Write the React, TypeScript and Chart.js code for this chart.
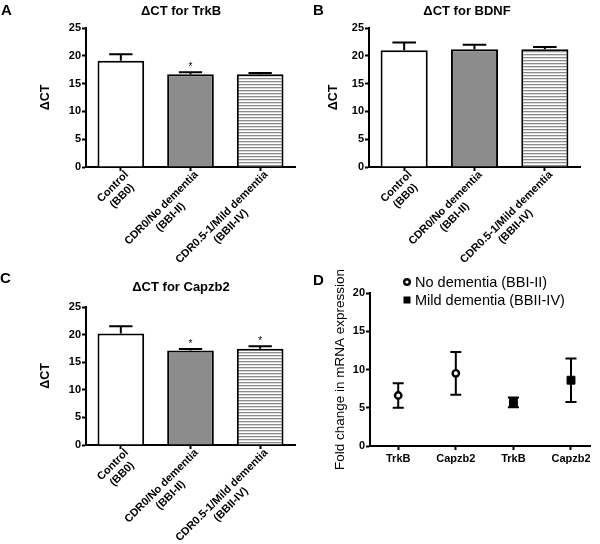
import React, { useEffect, useRef } from 'react';
import { Chart, registerables } from 'chart.js';

Chart.register(...registerables);

const FONT = "'Liberation Sans', Arial, Helvetica, sans-serif";

// ---- data ----
const groupLabels = [
  ['Control', '(BB0)'],
  ['CDR0/No dementia', '(BBI-II)'],
  ['CDR0.5-1/Mild dementia', '(BBII-IV)'],
];
const yTitleDelta = 'ΔCT';

const trkbMeans = [19.1, 16.7, 16.7];
const trkbErrors = [1.2, 0.35, 0.2];
const trkbStars = [false, true, false];

const bdnfMeans = [21.0, 21.2, 21.2];
const bdnfErrors = [1.4, 0.8, 0.4];
const bdnfStars = [false, false, false];

const capzb2Means = [20.2, 17.1, 17.45];
const capzb2Errors = [1.3, 0.3, 0.45];
const capzb2Stars = [false, true, true];

const foldGeneLabels = ['TrkB', 'Capzb2', 'TrkB', 'Capzb2'];
const noDementiaFold = [6.6, 9.5];
const noDementiaErr = [1.6, 2.8];
const mildDementiaFold = [5.7, 8.6];
const mildDementiaErr = [0.65, 2.85];
const foldSeriesNames = ['No dementia (BBI-II)', 'Mild dementia (BBII-IV)'];
const foldYTitle = 'Fold change in mRNA expression';

function makeHatch(): CanvasPattern | string {
  const c = document.createElement('canvas');
  c.width = 4;
  c.height = 3;
  const g = c.getContext('2d');
  if (!g) return '#ccc';
  g.fillStyle = '#ffffff';
  g.fillRect(0, 0, 4, 3);
  g.fillStyle = '#8a8a8a';
  g.fillRect(0, 0, 4, 1);
  g.fillStyle = '#dcdcdc';
  g.fillRect(0, 1, 4, 1);
  const p = g.createPattern(c, 'repeat');
  return p || '#ccc';
}

interface BarCfg {
  letter: string;
  letterX: number;
  letterY: number;
  title: string;
  titleX: number;
  titleY: number;
  means: number[];
  errors: number[];
  stars: boolean[];
  padLeft: number;
  yWidth: number;
  padTop: number;
  padRight: number;
  padBottom: number;
}

function makeBarChart(canvas: HTMLCanvasElement, cfg: BarCfg) {
  const hatch = makeHatch();
  const extras = {
    id: 'barExtras',
    afterDatasetsDraw(chart: any) {
      const ctx = chart.ctx as CanvasRenderingContext2D;
      const meta = chart.getDatasetMeta(0);
      const ys = chart.scales.y;
      const xs = chart.scales.x;
      ctx.save();
      ctx.strokeStyle = '#000';
      ctx.fillStyle = '#000';
      ctx.lineWidth = 2;
      meta.data.forEach((bar: any, i: number) => {
        const m = cfg.means[i];
        const e = cfg.errors[i];
        const yTop = ys.getPixelForValue(m + e);
        const yBase = ys.getPixelForValue(m);
        const half = bar.width / 4;
        ctx.beginPath();
        ctx.moveTo(bar.x, yBase);
        ctx.lineTo(bar.x, yTop);
        ctx.moveTo(bar.x - half, yTop);
        ctx.lineTo(bar.x + half, yTop);
        ctx.stroke();
        if (cfg.stars[i]) {
          ctx.font = `10px ${FONT}`;
          ctx.textAlign = 'center';
          ctx.textBaseline = 'alphabetic';
          ctx.fillText('*', bar.x, yTop - 2);
        }
      });
      // rotated two-line category labels
      ctx.font = `bold 11px ${FONT}`;
      ctx.textBaseline = 'middle';
      ctx.textAlign = 'center';
      groupLabels.forEach((lines, i) => {
        const px = xs.getPixelForTick(i);
        const w = Math.max(...lines.map((l) => ctx.measureText(l).width));
        ctx.save();
        ctx.translate(px + 6, xs.top + 6);
        ctx.rotate(-Math.PI / 4);
        lines.forEach((l, k) => ctx.fillText(l, -w / 2, k * 13));
        ctx.restore();
      });
      // panel letter and title
      ctx.textAlign = 'left';
      ctx.font = `bold 15px ${FONT}`;
      ctx.fillText(cfg.letter, cfg.letterX, cfg.letterY);
      ctx.textAlign = 'center';
      ctx.font = `bold 13px ${FONT}`;
      ctx.fillText(cfg.title, cfg.titleX, cfg.titleY);
      ctx.restore();
    },
  };

  return new Chart(canvas, {
    type: 'bar',
    data: {
      labels: groupLabels.map((l) => l.join(' ')),
      datasets: [
        {
          data: cfg.means,
          backgroundColor: ['#ffffff', '#8c8c8c', hatch as any],
          borderColor: '#000',
          borderWidth: 2,
          barPercentage: 0.67,
          categoryPercentage: 1,
        },
      ],
    },
    options: {
      responsive: false,
      animation: false,
      devicePixelRatio: 1,
      layout: {
        padding: { left: cfg.padLeft, top: cfg.padTop, right: cfg.padRight, bottom: cfg.padBottom },
      },
      plugins: { legend: { display: false }, tooltip: { enabled: false } },
      scales: {
        x: {
          type: 'category',
          offset: true,
          ticks: { display: false },
          grid: {
            display: true,
            offset: false,
            drawOnChartArea: false,
            drawTicks: true,
            tickLength: 4,
            tickWidth: 2,
            tickColor: '#000',
          },
          border: { display: true, color: '#000', width: 2 },
          afterFit: (s: any) => {
            s.height = 20;
          },
        },
        y: {
          min: 0,
          max: 25,
          ticks: {
            stepSize: 5,
            color: '#000',
            padding: 1,
            font: { size: 11, weight: 'bold', family: FONT },
          },
          grid: {
            display: true,
            drawOnChartArea: false,
            drawTicks: true,
            tickLength: 4,
            tickWidth: 2,
            tickColor: '#000',
          },
          border: { display: true, color: '#000', width: 2 },
          title: {
            display: true,
            text: yTitleDelta,
            color: '#000',
            padding: 0,
            font: { size: 12.5, weight: 'bold', family: FONT },
          },
          afterFit: (s: any) => {
            s.width = cfg.yWidth;
          },
        },
      },
    } as any,
    plugins: [extras],
  });
}

function makeFoldChart(canvas: HTMLCanvasElement) {
  const errs = [noDementiaErr, mildDementiaErr];
  const extras = {
    id: 'foldExtras',
    beforeDatasetsDraw(chart: any) {
      const ctx = chart.ctx as CanvasRenderingContext2D;
      const ys = chart.scales.y;
      ctx.save();
      ctx.strokeStyle = '#000';
      ctx.lineWidth = 2;
      chart.data.datasets.forEach((ds: any, d: number) => {
        const meta = chart.getDatasetMeta(d);
        meta.data.forEach((pt: any, j: number) => {
          const v = ds.data[j].y;
          const e = errs[d][j];
          const yT = ys.getPixelForValue(v + e);
          const yB = ys.getPixelForValue(v - e);
          ctx.beginPath();
          ctx.moveTo(pt.x, yT);
          ctx.lineTo(pt.x, yB);
          ctx.moveTo(pt.x - 5.5, yT);
          ctx.lineTo(pt.x + 5.5, yT);
          ctx.moveTo(pt.x - 5.5, yB);
          ctx.lineTo(pt.x + 5.5, yB);
          ctx.stroke();
        });
      });
      ctx.restore();
    },
    afterDatasetsDraw(chart: any) {
      const ctx = chart.ctx as CanvasRenderingContext2D;
      ctx.save();
      ctx.fillStyle = '#000';
      ctx.strokeStyle = '#000';
      ctx.textBaseline = 'middle';
      ctx.textAlign = 'left';
      ctx.font = `bold 15px ${FONT}`;
      ctx.fillText('D', 13, 19);
      // legend
      ctx.font = `14.5px ${FONT}`;
      const lx = 107;
      const ly = [20, 38];
      ctx.lineWidth = 2.4;
      ctx.beginPath();
      ctx.arc(lx, ly[0], 2.8, 0, Math.PI * 2);
      ctx.stroke();
      ctx.fillRect(lx - 3.5, ly[1] - 3.5, 7, 7);
      ctx.fillText(chart.data.datasets[0].label, lx + 8, ly[0] + 1);
      ctx.fillText(chart.data.datasets[1].label, lx + 8, ly[1] + 1);
      ctx.restore();
    },
  };

  return new Chart(canvas, {
    type: 'scatter',
    data: {
      datasets: [
        {
          label: foldSeriesNames[0],
          data: noDementiaFold.map((v, i) => ({ x: i + 1, y: v })),
          pointStyle: 'circle',
          pointRadius: 3.2,
          pointBorderWidth: 2.4,
          pointBackgroundColor: '#ffffff',
          pointBorderColor: '#000',
          showLine: false,
        },
        {
          label: foldSeriesNames[1],
          data: mildDementiaFold.map((v, i) => ({ x: i + 1 + noDementiaFold.length, y: v })),
          pointStyle: 'rect',
          pointRadius: 5.6,
          pointBorderWidth: 1,
          pointBackgroundColor: '#000',
          pointBorderColor: '#000',
          showLine: false,
        },
      ],
    },
    options: {
      responsive: false,
      animation: false,
      devicePixelRatio: 1,
      layout: { padding: { left: 32, top: 31, right: 10, bottom: 68 } },
      plugins: { legend: { display: false }, tooltip: { enabled: false } },
      scales: {
        x: {
          type: 'linear',
          min: 0.51,
          max: 4.33,
          afterBuildTicks: (s: any) => {
            s.ticks = foldGeneLabels.map((_, i) => ({ value: i + 1 }));
          },
          ticks: {
            color: '#000',
            padding: 2,
            maxRotation: 0,
            autoSkip: false,
            font: { size: 11, weight: 'bold', family: FONT },
            callback: (v: any) => foldGeneLabels[Math.round(Number(v)) - 1] ?? '',
          },
          grid: {
            display: true,
            drawOnChartArea: false,
            drawTicks: true,
            tickLength: 4,
            tickWidth: 2,
            tickColor: '#000',
          },
          border: { display: true, color: '#000', width: 2 },
          afterFit: (s: any) => {
            s.height = 30;
          },
        },
        y: {
          min: 0,
          max: 20,
          ticks: {
            stepSize: 5,
            color: '#000',
            padding: 1,
            font: { size: 11, weight: 'bold', family: FONT },
          },
          grid: {
            display: true,
            drawOnChartArea: false,
            drawTicks: true,
            tickLength: 4,
            tickWidth: 2,
            tickColor: '#000',
          },
          border: { display: true, color: '#000', width: 2 },
          title: {
            display: true,
            text: foldYTitle,
            color: '#000',
            padding: 0,
            font: { size: 13.5, family: FONT },
          },
          afterFit: (s: any) => {
            s.width = 38;
          },
        },
      },
    } as any,
    plugins: [extras],
  });
}

export default function App() {
  const refA = useRef<HTMLCanvasElement>(null);
  const refB = useRef<HTMLCanvasElement>(null);
  const refC = useRef<HTMLCanvasElement>(null);
  const refD = useRef<HTMLCanvasElement>(null);

  useEffect(() => {
    const charts: Chart[] = [];
    if (refA.current)
      charts.push(
        makeBarChart(refA.current, {
          letter: 'A', letterX: 1, letterY: 11,
          title: 'ΔCT for TrkB', titleX: 181, titleY: 11,
          means: trkbMeans, errors: trkbErrors, stars: trkbStars,
          padLeft: 38, yWidth: 48, padTop: 28, padRight: 5, padBottom: 88,
        })
      );
    if (refB.current)
      charts.push(
        makeBarChart(refB.current, {
          letter: 'B', letterX: 13, letterY: 11,
          title: 'ΔCT for BDNF', titleX: 167, titleY: 11,
          means: bdnfMeans, errors: bdnfErrors, stars: bdnfStars,
          padLeft: 26, yWidth: 43, padTop: 28, padRight: 20, padBottom: 88,
        })
      );
    if (refC.current)
      charts.push(
        makeBarChart(refC.current, {
          letter: 'C', letterX: 0, letterY: 17,
          title: 'ΔCT for Capzb2', titleX: 181, titleY: 25,
          means: capzb2Means, errors: capzb2Errors, stars: capzb2Stars,
          padLeft: 38, yWidth: 48, padTop: 45, padRight: 5, padBottom: 79,
        })
      );
    if (refD.current) charts.push(makeFoldChart(refD.current));
    return () => charts.forEach((c) => c.destroy());
  }, []);

  const cs = (left: number, top: number, w: number, h: number): React.CSSProperties => ({
    position: 'absolute', left, top, width: w, height: h, display: 'block',
  });

  return (
    <div style={{ position: 'absolute', left: 0, top: 0, width: 600, height: 544, background: '#fff' }}>
      <canvas ref={refC} width={300} height={282} style={cs(0, 262, 300, 282)} />
      <canvas ref={refD} width={300} height={282} style={cs(300, 262, 300, 282)} />
      <canvas ref={refA} width={300} height={275} style={cs(0, 0, 300, 275)} />
      <canvas ref={refB} width={300} height={275} style={cs(300, 0, 300, 275)} />
    </div>
  );
}
